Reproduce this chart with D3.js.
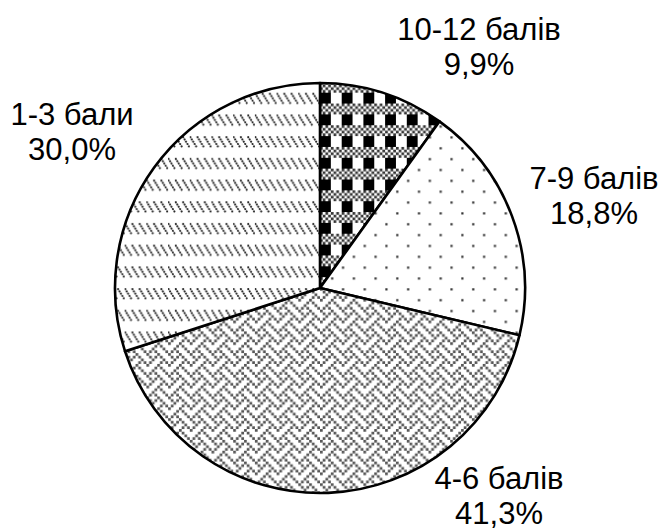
<!DOCTYPE html>
<html>
<head>
<meta charset="utf-8">
<script src="https://cdn.jsdelivr.net/npm/d3@7"></script>
<style>
  body { margin: 0; background: #fff; }
  text { font-family: "Liberation Sans", Arial, sans-serif; fill: #000; }
</style>
</head>
<body>
<div class="graph"></div>
<script>
var categories = ["10-12 балів", "7-9 балів", "4-6 балів", "1-3 бали"];
var values = [9.9, 18.8, 41.3, 30.0];
var valueLabels = ["9,9%", "18,8%", "41,3%", "30,0%"];
var fills = ["plaid", "dots", "weave", "dashes"];

// label baselines, relative to the pie centre
var labelPos = [[159, -248], [274, -99], [179, 201], [-248, -163]];

var width = 666;
var height = 530;
var cx = 320, cy = 288, radius = 205;

var svg = d3.select(".graph").append("svg")
  .attr("width", width)
  .attr("height", height);

var defs = svg.append("defs");
var cell = 21.7;
var px = cell / 8;

function newPattern(id) {
  var p = defs.append("pattern")
    .attr("id", id)
    .attr("patternUnits", "userSpaceOnUse")
    .attr("width", cell)
    .attr("height", cell);
  p.append("rect").attr("width", cell).attr("height", cell).attr("fill", "#fff");
  return p;
}

function bitmap(p, rows, color, size) {
  rows.forEach(function (r, j) {
    for (var i = 0; i < 8; i++) {
      if (r & (0x80 >> i)) {
        p.append("rect")
          .attr("x", i * px + (px - size) / 2)
          .attr("y", j * px + (px - size) / 2)
          .attr("width", size)
          .attr("height", size)
          .attr("fill", color);
      }
    }
  });
}

// plaid: black/white squares with dithered bands
var plaid = newPattern("plaid");
plaid.append("rect").attr("x", 0).attr("y", 0).attr("width", 4 * px).attr("height", 4 * px).attr("fill", "#000");
bitmap(plaid, [0, 0, 0, 0, 0xaa, 0x55, 0xaa, 0x55], "#333", px);

// sparse dots
var dots = newPattern("dots");
bitmap(dots, [0x80, 0, 0, 0, 0x08, 0, 0, 0], "#333", 2.2);

// weave
var weave = newPattern("weave");
bitmap(weave, [0x88, 0x54, 0x22, 0x45, 0x88, 0x14, 0x22, 0x51], "#555", px);

// short dashed back-diagonals
var dashes = newPattern("dashes");
[0, 7.2, 14.5].forEach(function (x) {
  dashes.append("line")
    .attr("x1", x + 0.5).attr("y1", 1)
    .attr("x2", x + 6.5).attr("y2", 10.5)
    .attr("stroke", "#222")
    .attr("stroke-width", 2)
    .attr("stroke-linecap", "round")
    .attr("stroke-dasharray", "0.1 2.6");
});

var g = svg.append("g")
  .attr("transform", "translate(" + cx + "," + cy + ")");

var pie = d3.pie().sort(null).value(d => d);
var arc = d3.arc().innerRadius(0).outerRadius(radius);
var arcs = pie(values);

g.selectAll("path.slice")
  .data(arcs)
  .enter().append("path")
  .attr("class", "slice")
  .attr("d", arc)
  .attr("fill", (d, i) => "url(#" + fills[i] + ")")
  .attr("stroke", "#000")
  .attr("stroke-width", 2.6)
  .attr("stroke-linejoin", "round");

var labels = g.selectAll("text.label")
  .data(arcs)
  .enter().append("text")
  .attr("class", "label")
  .attr("text-anchor", "middle")
  .style("font-size", "31px");

labels.append("tspan")
  .attr("x", (d, i) => labelPos[i][0])
  .attr("y", (d, i) => labelPos[i][1])
  .text((d, i) => categories[i]);

labels.append("tspan")
  .attr("x", (d, i) => labelPos[i][0])
  .attr("y", (d, i) => labelPos[i][1] + 35)
  .text((d, i) => valueLabels[i]);
</script>
</body>
</html>
